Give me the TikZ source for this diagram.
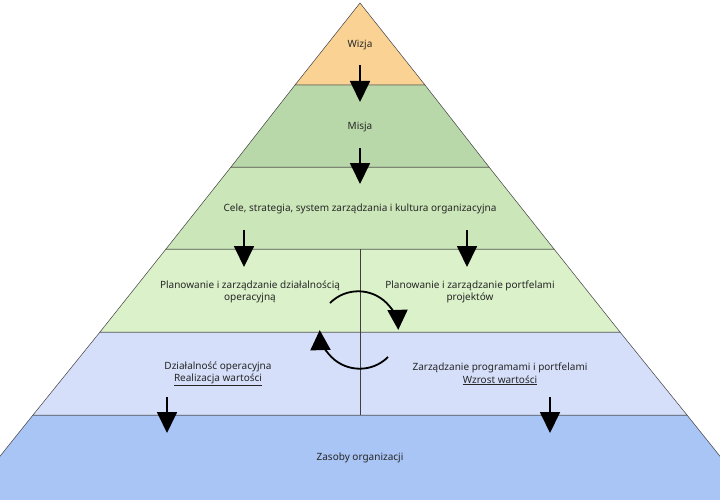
\documentclass[tikz,border=0pt]{standalone}
\usepackage{fontspec}
\setmainfont{Noto Sans}
\usetikzlibrary{arrows.meta,positioning}
\definecolor{wizjaC}{HTML}{F9D294}
\definecolor{misjaC}{HTML}{B9D8A9}
\definecolor{celeC}{HTML}{CBE6B8}
\definecolor{planC}{HTML}{DAF1C9}
\definecolor{dzialC}{HTML}{D5DFF9}
\definecolor{zasobyC}{HTML}{A9C5F5}
\tikzset{
  Band/.style = {draw=black!75, line width=0.5pt},
  Label/.style = {font=\fontsize{10}{12.5}\selectfont, align=center, text=black!85},
  Flow/.style = {line width=1.8pt, -{Triangle[width=20pt,length=21pt]}},
  Cycle/.style = {line width=1.8pt, -{Triangle[width=20pt,length=20pt]}}
}
\begin{document}
\begin{tikzpicture}[x=1pt,y=-1pt]
  \useasboundingbox (0,0) rectangle (720,500);
  \begin{scope}
    \clip (0,0) rectangle (720,500);
    \fill[zasobyC] (-35,500) -- (755,500) -- (687,415) -- (33,415) -- cycle;
    \draw[Band] (-35,500) -- (33,415) -- (687,415) -- (755,500);
  \end{scope}
  \filldraw[Band, fill=dzialC] (33,415) -- (687,415) -- (620,332) -- (100,332) -- cycle;
  \filldraw[Band, fill=planC] (100,332) -- (620,332) -- (554,249) -- (166,249) -- cycle;
  \filldraw[Band, fill=celeC] (166,249) -- (554,249) -- (489,167) -- (231,167) -- cycle;
  \filldraw[Band, fill=misjaC] (231,167) -- (489,167) -- (425,85) -- (295,85) -- cycle;
  \filldraw[Band, fill=wizjaC] (295,85) -- (425,85) -- (360,3) -- cycle;
  \draw[Band] (360,249) -- (360,415);

  % labels
  \node (wizja) at (360,45) [Label] {Wizja};
  \node (misja) at (360,127) [Label] {Misja};
  \node (cele) at (360,209) [Label] {Cele, strategia, system zarządzania i kultura organizacyjna};
  \node (planOp) at (250,292) [Label] {Planowanie i zarządzanie działalnością\\operacyjną};
  \node (planPort) at (470,292) [Label] {Planowanie i zarządzanie portfelami\\projektów};
  \node (dzial) at (218,374) [Label] {Działalność operacyjna\\\underline{Realizacja wartości}};
  \node (zarz) at (500,374) [Label] {Zarządzanie programami i portfelami\\\underline{Wzrost wartości}};
  \node (zasoby) at (360,458) [Label] {Zasoby organizacji};

  % arrows
  \coordinate (a1) at (360,65);  \coordinate (b1) at (360,102);
  \coordinate (a2) at (360,148); \coordinate (b2) at (360,184);
  \coordinate (a3) at (244,230); \coordinate (b3) at (244,267);
  \coordinate (a4) at (467,230); \coordinate (b4) at (467,267);
  \coordinate (a5) at (167,397); \coordinate (b5) at (167,433);
  \coordinate (a6) at (550,397); \coordinate (b6) at (550,433);
  \foreach \i in {1,...,6}
    \draw[Flow] (a\i) -- (b\i);

  % cycle
  \draw[Cycle] (330,303) arc[start angle=225, end angle=358, radius=40];
  \draw[Cycle] (388,357) arc[start angle=45, end angle=178, radius=40];
\end{tikzpicture}
\end{document}
